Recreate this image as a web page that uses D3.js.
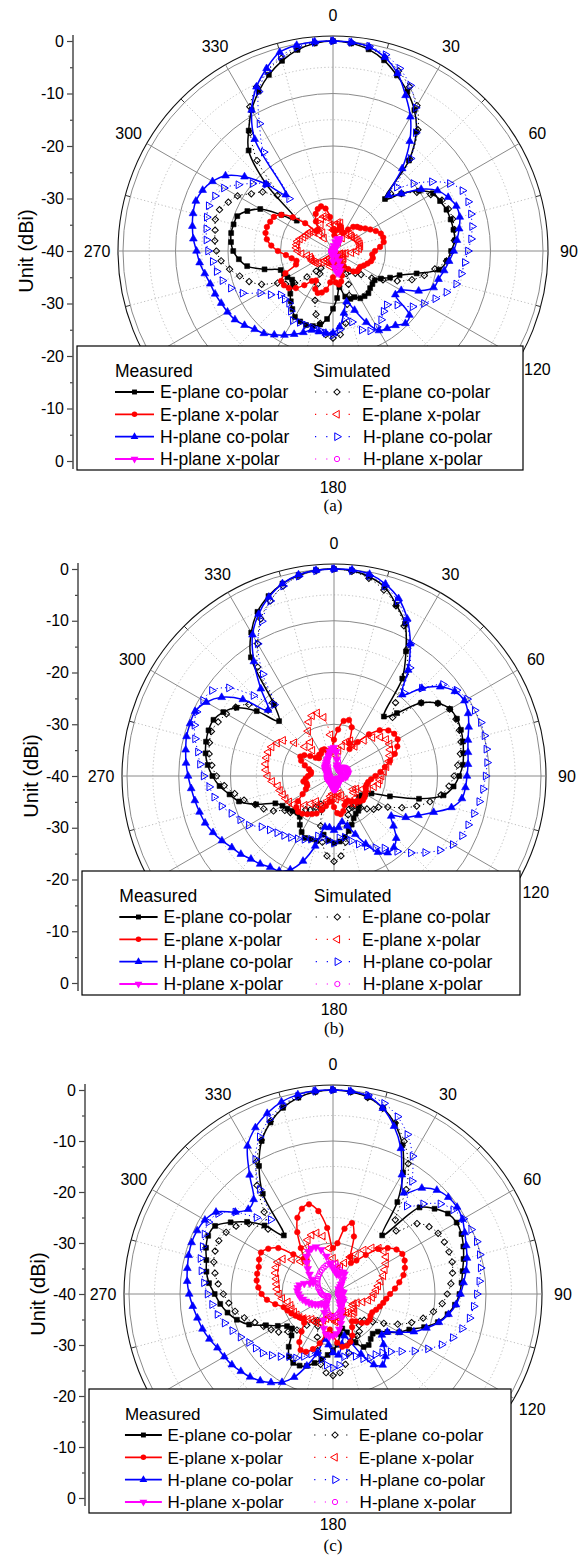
<!DOCTYPE html>
<html>
<head>
<meta charset="utf-8">
<script src="https://cdn.jsdelivr.net/npm/d3@7"></script>
<style>
  html, body { margin: 0; padding: 0; background: #fff; }
  svg { display: block; }
</style>
</head>
<body>
<svg id="chart" width="583" height="1556"></svg>
<script>
// Radiation patterns sampled every 5 degrees (0..355), gain in dBi.
const angles = d3.range(0, 360, 5);
const angleTicks = d3.range(0, 360, 30);
const radialTickLabels = ["0", "-10", "-20", "-30", "-40", "-30", "-20", "-10", "0"];
const seriesNames = ["E-plane co-polar", "E-plane x-polar", "H-plane co-polar", "H-plane x-polar"];
const groupTitles = ["Measured", "Simulated"];
const panelCaptions = ["(a)", "(b)", "(c)"];
const axisTitle = "Unit (dBi)";

// ---------- panel (a) ----------
const aEcoMeas = [0, -0.3, -1, -2.4, -4.4, -6.5, -9, -12.3, -17.5, -26, -23, -20,
  -18, -17.5, -17, -16.8, -16.7, -16.7, -17.5, -18.2, -19.5, -23.5, -26.5, -28,
  -29.5, -30.3, -30.2, -30, -29.5, -29.5, -29.6, -30.3, -30.3, -31, -33, -31,
  -29, -27, -25.8, -25.2, -25, -25.2, -25.5, -26.5, -27.5, -28.5, -30, -30.5,
  -30, -29.7, -29.4, -26.5, -23.4, -22, -21, -20.5, -20.3, -20.4, -20.6, -22,
  -24, -28, -31, -22, -15, -12, -9, -6.5, -4.3, -2.5, -1.1, -0.3];
const aEcoSim = [0, -0.2, -0.7, -1.8, -3.5, -5.5, -8, -11.8, -17.2, -24.5, -23, -20.5,
  -18.5, -17.1, -16.6, -16.4, -16.5, -16.8, -17.3, -18.3, -20.3, -22, -24, -26.5,
  -29, -31, -33, -34, -35, -36, -35, -33, -31, -29.5, -26, -24,
  -23.4, -24, -26, -27.5, -30, -33, -35, -36, -35, -33, -30.5, -29,
  -27.8, -25, -23, -21.6, -20, -18.6, -17.8, -17.4, -17.2, -16.8, -17, -18,
  -19, -21, -22.5, -25, -17.5, -12.5, -8.3, -5.5, -3.5, -2, -0.9, -0.2];
const aHcoMeas = [0, -0.1, -0.5, -1.8, -4, -7.3, -10.5, -14.5, -19.5, -25, -23, -19.5,
  -17, -15.8, -15, -15, -15.6, -16.3, -17, -17.8, -18.5, -19.2, -19.6, -22,
  -25, -25.5, -21, -20.5, -21.5, -22, -22.5, -25, -28, -30, -28, -25.5,
  -24.4, -24.3, -24.4, -24.4, -23.5, -22.5, -21.5, -20.5, -19.5, -18.9, -18, -17.2,
  -16.8, -16.5, -16.1, -15.8, -15.2, -14.5, -14, -13.3, -12.8, -12.4, -12.2, -12.6,
  -13.5, -15, -18, -22, -26, -14, -9, -5.5, -3, -0.8, -0.2, 0];
const aHcoSim = [0, -0.1, -0.4, -1.3, -3, -5.2, -8.5, -12.5, -17, -22.8, -20, -17,
  -14.3, -12.8, -12.6, -12.8, -13.1, -13.6, -14.3, -14.8, -15.2, -15.7, -17, -18.5,
  -20, -21.5, -24, -25.5, -25, -24, -23.3, -23.2, -24, -26, -27, -25,
  -24, -24.3, -24.7, -24.9, -25, -25, -24.7, -26, -27, -27, -27, -25.5,
  -24, -21, -19.3, -18.2, -17.5, -17, -16.2, -15.8, -15.5, -15.1, -14.8, -15.2,
  -16, -18, -20, -22, -27, -17, -12, -6.5, -3.5, -1.6, -0.6, -0.1];
const aExMeas = [-36, -37, -36, -35, -35.5, -36, -36, -35, -34, -33.5, -33.2, -32.5,
  -31.8, -31, -30.3, -30.1, -30.2, -31, -32, -32.5, -32.3, -32.5, -33, -33.5,
  -34, -34, -34, -34.5, -35.5, -36.5, -37, -36, -35, -34, -33.5, -34,
  -35, -34, -32.5, -31.8, -31.5, -32, -33.5, -33, -31.5, -30, -29, -28.6,
  -28.6, -30, -32.5, -32.8, -32, -31, -29.5, -28.2, -27.2, -26.7, -26.6, -26.8,
  -27, -28, -30, -32.5, -35, -35, -33.5, -32.2, -31.5, -31.2, -31.8, -33.5];
const aExSim = [-36, -35, -34.5, -34.5, -35.5, -37, -38, -37, -36, -35.5, -35.5, -35.5,
  -35.2, -35, -34.8, -34.7, -34.7, -35, -35.5, -36.5, -37.5, -38, -38.5, -38.5,
  -38, -37.5, -37.5, -38, -38.5, -39, -39, -38.5, -38, -37.5, -37, -37.5,
  -38, -37.5, -37, -37.5, -38, -38.5, -38.5, -38, -37.5, -37, -36.5, -36,
  -35.8, -35.6, -35.6, -35.5, -35, -34, -33.3, -33, -33, -33, -33.3, -33.8,
  -34, -34.2, -34.3, -35, -36, -37, -36, -34.5, -33.5, -33.2, -33.5, -35];
const aHxMeas = [-40, -39.5, -39, -38.2, -37.6, -37.4, -37.6, -38.2, -39, -39.6, -40, -40,
  -40, -40, -40, -40, -40, -40, -40, -40, -40, -40, -40, -40,
  -40, -40, -40, -40, -39.6, -38.8, -37.8, -36.8, -36, -35.6, -35.8, -36.8,
  -38, -39, -39.6, -40, -40, -40, -40, -40, -40, -40, -40, -40,
  -40, -40, -40, -40, -40, -40, -40, -40, -40, -40, -40, -40,
  -40, -40, -40, -40, -40, -40, -40, -40, -40, -40, -40, -40];
const aHxSim = [-39.7, -39.7, -39.7, -39.7, -39.7, -39.7, -39.7, -39.7, -39.7, -39.7, -39.7, -39.7,
  -39.7, -39.7, -39.7, -39.7, -39.7, -39.7, -39.7, -39.7, -39.7, -39.7, -39.7, -39.7,
  -39.7, -39.7, -39.7, -39.7, -39.7, -39.7, -39.7, -39.6, -39.5, -39.5, -39.6, -39.7,
  -39.7, -39.7, -39.7, -39.7, -39.7, -39.7, -39.7, -39.7, -39.7, -39.7, -39.7, -39.7,
  -39.7, -39.7, -39.7, -39.7, -39.7, -39.7, -39.7, -39.7, -39.7, -39.7, -39.7, -39.7,
  -39.7, -39.7, -39.7, -39.7, -39.7, -39.7, -39.7, -39.7, -39.7, -39.7, -39.7, -39.7];

// ---------- panel (b) ----------
const bEcoMeas = [0, -0.2, -0.9, -2.2, -4.8, -7.5, -12.2, -17, -25, -22.8, -18, -15.5,
  -14.1, -13.8, -13.9, -14.2, -14.6, -15, -15.8, -16.8, -18.5, -23, -28.5, -32,
  -33, -33.5, -33.7, -33, -32.5, -31.8, -31.6, -31, -30, -29, -28, -27.3,
  -27, -27.5, -28.5, -27, -27, -26.8, -27.5, -28.5, -29.7, -30, -29.5, -29,
  -28.5, -27.5, -24, -21, -19.5, -17.8, -16.5, -15.5, -14.8, -14.4, -14.2, -14.3,
  -15.3, -17, -20.5, -25, -22, -12, -8, -5, -3, -1.5, -0.6, -0.1];
const bEcoSim = [0, -0.3, -1.2, -2.8, -5, -8, -11.5, -16, -21.5, -24, -18, -15.5,
  -14.2, -14, -14.2, -14.6, -15.2, -16, -16.8, -17.7, -19, -20.8, -23, -25.5,
  -28, -29.5, -30, -31, -32, -33, -33, -33, -32, -30, -27, -24.5,
  -23.5, -24.5, -27, -30, -33, -34, -33, -32, -31.5, -30, -29, -28.4,
  -26.5, -25, -23.8, -22, -20.5, -18.7, -17.3, -16.3, -15.5, -15.1, -14.8, -15.3,
  -16, -16.8, -18.5, -22, -21.5, -14.3, -10.5, -6.5, -4, -2, -0.8, -0.2];
const bHcoMeas = [0, 0, -0.4, -1.6, -3.5, -6.5, -10.5, -15, -19.5, -16, -13.2, -11.5,
  -10.9, -11.4, -12.3, -13.2, -13.7, -14, -14.3, -14.5, -14.9, -16.5, -19.5, -22,
  -24, -26.5, -25, -23, -22, -21.9, -23, -25.5, -28, -30, -31, -30,
  -29.5, -30, -30, -26, -22.5, -20, -18.8, -18.5, -17.8, -17.3, -16.5, -15.9,
  -15, -14.2, -13.5, -13.1, -12.7, -12.3, -11.8, -11.3, -10.9, -10.5, -10.4, -10.4,
  -11.5, -13.5, -17, -22, -18, -13, -8.5, -5.5, -3.2, -1.5, -0.5, -0.1];
const bHcoSim = [0, -0.2, -0.7, -2, -4, -7, -10.5, -14.5, -19, -16, -12.5, -11.1,
  -10.3, -10, -9.8, -9.9, -10.1, -10.3, -10.7, -11.1, -11.5, -12, -12.4, -12.7,
  -13.5, -15, -17, -19, -21, -23, -24, -25, -26, -27, -28, -28,
  -27, -27.5, -28, -28, -27, -26.5, -26, -25.5, -25, -24.5, -23.8, -22.9,
  -21, -20, -18.9, -17.5, -16.5, -15.8, -14.8, -14, -13.3, -12.2, -11.3, -10.7,
  -10.8, -11.2, -13.5, -18, -22, -16, -10.5, -7, -4, -2, -0.8, -0.2];
const bExMeas = [-33, -31, -29.2, -28.8, -30, -33, -34, -32, -29.5, -27.5, -26.3, -25.8,
  -25.8, -26.5, -27.5, -28.8, -30, -31, -32, -32.8, -33.3, -33.5, -33.5, -33.2,
  -33, -32.8, -32.7, -33, -33.5, -34, -34.5, -34.5, -34, -33, -32.5, -32.8,
  -34, -35, -35, -34, -33, -32, -31.5, -31, -30.5, -30.2, -30.5, -31.5,
  -33, -34, -34.5, -34.5, -34, -34.5, -35, -35.5, -35.5, -35, -34, -33,
  -32.5, -33, -34, -35, -35.5, -35, -35, -34.5, -34.5, -35, -35.5, -35];
const bExSim = [-35, -36, -35, -34, -33, -32.5, -33, -33, -31, -29.5, -28.3, -27.7,
  -27.6, -28, -28.5, -29, -29.7, -30.3, -30.8, -31.1, -31.3, -32, -33, -34,
  -35, -35.5, -35, -34, -33.5, -33.5, -34, -35, -36, -36.5, -36, -35.5,
  -36, -36.5, -36, -35, -34, -33.5, -33.5, -34, -33, -32, -31, -30.3,
  -30, -29.7, -29.5, -29.2, -29, -28, -27.2, -26.8, -26.6, -26.5, -26.5, -26.7,
  -27.3, -28, -30, -32, -33.5, -32, -30, -28.5, -27.6, -27.4, -28.5, -32];
const bHxMeas = [-34.5, -35.3, -36.8, -37.8, -38.3, -38.4, -38.3, -38, -37.8, -37.6, -37.5, -37.4,
  -37.3, -37.3, -37.3, -37.3, -37.3, -37.4, -37.5, -37.8, -38.2, -38.5, -38.8, -39,
  -39, -39, -39, -39, -39, -38.8, -38.5, -38.2, -38, -37.8, -37.6, -37.5,
  -37.5, -37.6, -37.8, -38, -38.3, -38.6, -38.8, -39, -39, -39, -39, -39,
  -39, -39, -39, -39, -39, -39, -38.8, -38.8, -38.8, -38.8, -38.6, -38.4,
  -38.2, -38, -37.8, -37.6, -37.5, -37.3, -37, -36.8, -36.5, -36, -35.2, -34.7];
const bHxSim = [-35, -35.3, -36, -37, -37.8, -38.3, -38.5, -38.6, -38.6, -38.6, -38.6, -38.6,
  -38.6, -38.6, -38.6, -38.6, -38.6, -38.6, -38.6, -38.6, -38.6, -38.6, -38.6, -38.6,
  -38.6, -38.6, -38.6, -38.6, -38.6, -38.6, -38.6, -38.5, -38.4, -38.3, -38.2, -38.2,
  -38.2, -38.2, -38.3, -38.4, -38.5, -38.6, -38.6, -38.6, -38.6, -38.6, -38.6, -38.6,
  -38.6, -38.6, -38.6, -38.6, -38.6, -38.6, -38.6, -38.6, -38.6, -38.6, -38.6, -38.6,
  -38.6, -38.6, -38.6, -38.5, -38.3, -38, -37.6, -37, -36.3, -35.7, -35.3, -35];

// ---------- panel (c) ----------
const cEcoMeas = [0, -0.2, -0.8, -2.2, -4.5, -7.8, -12.5, -18, -25, -16, -14, -12.5,
  -12, -12.2, -12.8, -13.5, -14.2, -14.7, -15.2, -16, -17.2, -18.7, -21, -23.5,
  -25, -27, -28.5, -29, -28.5, -27.8, -28, -29.5, -32, -33, -32, -30,
  -29, -28, -27, -26, -25, -24.5, -24.4, -25, -26.5, -28.5, -29.5, -29,
  -27.5, -25.5, -22.5, -20.5, -19, -17.8, -16.8, -15.6, -14.8, -14.3, -13.5, -13,
  -13.3, -15.5, -18, -21, -25, -16, -11, -6.9, -4.2, -2.2, -0.9, -0.2];
const cEcoSim = [0, -0.2, -0.9, -2.3, -4.3, -7, -10.5, -15, -21, -22.5, -18.5, -17,
  -16.2, -15.9, -15.8, -15.8, -16.2, -16.8, -17.6, -18.5, -20, -21.7, -23.6, -26,
  -28.5, -30.5, -32, -32.5, -32, -31, -30.5, -30.5, -30, -28, -26, -24.5,
  -24, -24.5, -26, -28.5, -31, -33, -34, -33.5, -32, -30, -28.5, -27,
  -26, -25, -23.7, -22, -20.5, -19.5, -18.5, -17.4, -16.5, -15.8, -15.4, -15.3,
  -15.8, -16.8, -18.5, -22, -19, -14, -10, -6.7, -4, -2, -0.8, -0.2];
const cHcoMeas = [0, -0.1, -0.6, -2.3, -5, -8.5, -13, -15.8, -12.9, -11.2, -10.5, -10.3,
  -10.7, -11.5, -12.2, -12.8, -13.5, -14.3, -15, -15.8, -17, -18.5, -20.5, -22.5,
  -25, -27, -27.5, -26, -24, -23, -24, -27, -30, -31.5, -30, -28,
  -28.5, -30, -31, -28, -25, -22, -20, -18.8, -17.8, -17, -16.4, -15.8,
  -15.4, -15, -14.2, -13.5, -13, -12.4, -11.8, -11.3, -11, -10.7, -10.5, -10.6,
  -11, -12, -15, -16.5, -15.8, -11.5, -6.5, -4, -2.3, -1, -0.3, 0];
const cHcoSim = [0, -0.1, -0.4, -1.3, -3, -5.5, -8.8, -13, -17.5, -15, -12.5, -11.2,
  -10.5, -10.1, -10, -10.2, -10.6, -11.2, -11.8, -12.3, -12.8, -13.8, -15, -16.5,
  -18.5, -20.5, -22.5, -24, -25, -25.5, -25.5, -26, -27, -28, -27.5, -26,
  -25.5, -26, -27, -28, -27.5, -26.5, -25.5, -25, -24, -23, -22, -21.5,
  -21, -20, -19, -18, -17, -16.2, -15.4, -14.6, -13.8, -13.1, -12.8, -12.2,
  -11.8, -12.5, -15, -18.8, -21, -15, -9.5, -6, -3.5, -1.7, -0.6, -0.1];
const cExMeas = [-31, -30, -27, -25.6, -28, -32, -33, -32, -30, -27.5, -26, -24.8,
  -24.3, -24.5, -25, -25.7, -26.8, -27.8, -28.8, -29.5, -30, -30.5, -31, -31.5,
  -31.5, -31.2, -31.3, -32, -33, -33.5, -32.5, -31, -30, -29.5, -29.5, -30.4,
  -32, -33, -32, -30, -28.5, -27.5, -27.3, -28.5, -30.4, -32, -32.5, -32,
  -31.5, -31, -30.5, -30, -28.5, -27, -26, -25.3, -24.8, -24.6, -24.5, -24,
  -23.7, -24.5, -26, -29, -31, -29, -26, -23.5, -22.2, -21.8, -23.5, -27];
const cExSim = [-33, -34, -35, -34.5, -33.5, -32, -31, -29.5, -28.2, -27.3, -27, -27.3,
  -28, -28.8, -29.5, -30.3, -31, -31.5, -32, -32.3, -33, -34, -35, -35.5,
  -35.5, -35, -34.5, -34.5, -35, -35.5, -36, -36, -35.5, -35, -34.5, -34.5,
  -35, -35.5, -35.5, -35, -34.5, -34, -33.5, -33.5, -33.5, -33, -32.5, -32,
  -31.8, -31.6, -31.4, -31.4, -31, -30, -29.4, -29, -28.8, -28.5, -28, -27.7,
  -27.5, -28, -29.5, -31, -32, -31, -29.5, -28.3, -27.7, -27.6, -28.5, -31];
const cHxMeas = [-35, -35.5, -36, -36, -35.5, -35.3, -35.5, -36.5, -37.5, -38, -38.5, -38.5,
  -38.5, -38.5, -38.5, -38.3, -38, -38, -38.2, -38.5, -38.5, -38.5, -38.3, -38,
  -37.8, -37.5, -37.5, -37.8, -38, -37.5, -37, -36, -35, -34, -33, -32.2,
  -31.8, -31.6, -32, -33, -34.5, -36, -37, -37.5, -37.5, -37.5, -37, -36.5,
  -36, -35.5, -35, -34.5, -34, -33.5, -33.2, -33, -33, -33.2, -34, -35,
  -35.5, -35, -34, -33, -32, -31, -30.4, -30.1, -30.2, -31, -32.5, -34];
const cHxSim = [-34, -34, -34.5, -35, -35.5, -36, -36.5, -37, -37.5, -38, -38.3, -38.5,
  -38.7, -38.8, -38.9, -39, -39, -39, -39, -39, -38.9, -38.8, -38.7, -38.5,
  -38.3, -38, -37.8, -37.5, -37.3, -37, -36.8, -36.5, -36.3, -36, -35.8, -35.6,
  -35.5, -35.5, -35.8, -36.2, -36.6, -37, -37.4, -37.8, -38.2, -38.5, -38.7, -38.8,
  -38.9, -39, -38.8, -38.5, -38.2, -38, -37.8, -37.6, -37.5, -37.3, -37, -36.8,
  -36.5, -36.3, -36, -35.8, -35.5, -35.3, -35, -34.8, -34.5, -34.3, -34.1, -34];

// ---------- drawing ----------
const FONT = 'Arial, "Liberation Sans", Helvetica, sans-serif';
const SERIF = '"Times New Roman", "Liberation Serif", serif';
const BLACK = "#000000", RED = "#ff0000", BLUE = "#0000ff", MAGENTA = "#ff00ff";

// Series styling in legend order: measured lines with filled symbols, simulated dotted with open symbols.
const measuredStyles = [
  { color: BLACK, shape: d3.symbolSquare, size: 24, rot: 0 },
  { color: RED, shape: d3.symbolCircle, size: 24, rot: 0 },
  { color: BLUE, shape: d3.symbolTriangle, size: 26, rot: 0 },
  { color: MAGENTA, shape: d3.symbolTriangle, size: 26, rot: 180 }
];
const simulatedStyles = [
  { color: BLACK, shape: d3.symbolSquare, size: 20, rot: 45 },
  { color: RED, shape: d3.symbolTriangle, size: 26, rot: -90 },
  { color: BLUE, shape: d3.symbolTriangle, size: 26, rot: 90 },
  { color: MAGENTA, shape: d3.symbolCircle, size: 22, rot: 0 }
];

const panels = [
  { meas: [aEcoMeas, aExMeas, aHcoMeas, aHxMeas], sim: [aEcoSim, aExSim, aHcoSim, aHxSim],
    cx: 333, cy: 251, R: 210, axisX: 73, titleX: 26, box: { x: 77, y: 346, w: 446, h: 124 }, font: 17.5, capY: 511 },
  { meas: [bEcoMeas, bExMeas, bHcoMeas, bHxMeas], sim: [bEcoSim, bExSim, bHcoSim, bHxSim],
    cx: 334, cy: 776, R: 207, axisX: 78, titleX: 31, box: { x: 82, y: 871, w: 438, h: 124 }, font: 17.5, capY: 1034 },
  { meas: [cEcoMeas, cExMeas, cHcoMeas, cHxMeas], sim: [cEcoSim, cExSim, cHcoSim, cHxSim],
    cx: 333, cy: 1294, R: 204, axisX: 85, titleX: 38, box: { x: 89, y: 1389, w: 422, h: 124 }, font: 17, capY: 1551 }
];

const svg = d3.select("#chart");
const toRad = d => d * Math.PI / 180;

function drawPanel(P, idx) {
  const rScale = d3.scaleLinear().domain([-40, 0]).range([0, P.R]).clamp(true);
  const Rout = P.R + 5;
  const B = P.box;
  const root = svg.append("g");
  const g = root.append("g").attr("transform", `translate(${P.cx},${P.cy})`);

  // concentric grid rings
  const ringVals = d3.range(-35, 1, 5);
  g.selectAll("circle.ring").data(ringVals).join("circle")
    .attr("r", d => rScale(d))
    .attr("fill", "none")
    .attr("stroke", d => d % 10 === 0 ? "#8a8a8a" : "#bdbdbd")
    .attr("stroke-width", 1)
    .attr("stroke-dasharray", d => d % 10 === 0 ? null : "1.2,2.4");
  g.append("circle").attr("r", Rout).attr("fill", "none").attr("stroke", "#111").attr("stroke-width", 1.1);

  // spokes
  const spokes = d3.range(0, 360, 15);
  g.selectAll("line.spoke").data(spokes).join("line")
    .attr("x1", 0).attr("y1", 0)
    .attr("x2", d => (d % 30 === 0 ? Rout : P.R) * Math.sin(toRad(d)))
    .attr("y2", d => -(d % 30 === 0 ? Rout : P.R) * Math.cos(toRad(d)))
    .attr("stroke", d => d % 30 === 0 ? "#8a8a8a" : "#bdbdbd")
    .attr("stroke-width", 1)
    .attr("stroke-dasharray", d => d % 30 === 0 ? null : "1.2,2.4");
  g.selectAll("line.minor").data(spokes.filter(d => d % 30 !== 0)).join("line")
    .attr("x1", d => P.R * Math.sin(toRad(d))).attr("y1", d => -P.R * Math.cos(toRad(d)))
    .attr("x2", d => Rout * Math.sin(toRad(d))).attr("y2", d => -Rout * Math.cos(toRad(d)))
    .attr("stroke", "#333").attr("stroke-width", 1);

  // angle labels (those that sit under the legend box are covered by it)
  const Rl = P.R + 26;
  const visibleTicks = angleTicks.filter(d => {
    const x = P.cx + Rl * Math.sin(toRad(d)), y = P.cy - Rl * Math.cos(toRad(d));
    return !(x > B.x && x < B.x + B.w && y > B.y && y < B.y + B.h);
  });
  g.selectAll("text.ang").data(visibleTicks).join("text")
    .attr("x", d => Rl * Math.sin(toRad(d)))
    .attr("y", d => -Rl * Math.cos(toRad(d)))
    .attr("text-anchor", "middle").attr("dominant-baseline", "central")
    .attr("font-family", FONT).attr("font-size", 16).attr("fill", "#000")
    .text(d => String(d));

  // pattern curves
  const radial = d3.lineRadial()
    .angle(d => toRad(d.a))
    .radius(d => rScale(d.v))
    .curve(d3.curveCatmullRomClosed.alpha(0.5));

  function drawSeries(values, st, measured) {
    const pts = angles.map((a, i) => ({ a, v: values[i] }));
    g.append("path").attr("d", radial(pts))
      .attr("fill", "none").attr("stroke", st.color)
      .attr("stroke-width", measured ? 1.5 : 1)
      .attr("stroke-dasharray", measured ? null : "1.2,3");
    const sym = d3.symbol(st.shape, st.size);
    g.append("g").selectAll("path").data(pts.filter(d => d.v > -40)).join("path")
      .attr("d", sym)
      .attr("transform", d => {
        const r = rScale(d.v), t = toRad(d.a);
        return `translate(${r * Math.sin(t)},${-r * Math.cos(t)}) rotate(${st.rot})`;
      })
      .attr("fill", measured ? st.color : "none")
      .attr("stroke", st.color)
      .attr("stroke-width", measured ? 0.6 : 1);
  }

  // draw order: co-polar patterns first, cross-polar on top
  drawSeries(P.meas[0], measuredStyles[0], true);
  drawSeries(P.sim[0], simulatedStyles[0], false);
  drawSeries(P.sim[2], simulatedStyles[2], false);
  drawSeries(P.meas[2], measuredStyles[2], true);
  drawSeries(P.sim[1], simulatedStyles[1], false);
  drawSeries(P.meas[1], measuredStyles[1], true);
  drawSeries(P.sim[3], simulatedStyles[3], false);
  drawSeries(P.meas[3], measuredStyles[3], true);

  // legend box
  const k = B.w / 446;
  const lg = root.append("g").attr("transform", `translate(${B.x},${B.y})`);
  lg.append("rect").attr("width", B.w).attr("height", B.h)
    .attr("fill", "#fff").attr("stroke", "#000").attr("stroke-width", 1.2);
  const txt = (x, y, s) => lg.append("text").attr("x", x).attr("y", y)
    .attr("font-family", FONT).attr("font-size", P.font).attr("fill", "#000").text(s);
  txt(38 * k, 31, groupTitles[0]);
  txt(236 * k, 31, groupTitles[1]);
  const rowY = [46, 68.3, 90.7, 113];
  seriesNames.forEach((name, i) => {
    const y = rowY[i];
    const ms = measuredStyles[i], ss = simulatedStyles[i];
    lg.append("line").attr("x1", 38 * k).attr("x2", 77 * k).attr("y1", y).attr("y2", y)
      .attr("stroke", ms.color).attr("stroke-width", 1.8);
    lg.append("path").attr("d", d3.symbol(ms.shape, ms.size)())
      .attr("transform", `translate(${57.5 * k},${y}) rotate(${ms.rot})`)
      .attr("fill", ms.color);
    txt(83 * k, y + 6.3, name);
    lg.append("line").attr("x1", 238 * k).attr("x2", 274 * k).attr("y1", y).attr("y2", y)
      .attr("stroke", ss.color).attr("stroke-width", 1.2).attr("stroke-dasharray", "1.2," + (10 * k).toFixed(2));
    lg.append("path").attr("d", d3.symbol(ss.shape, ss.size)())
      .attr("transform", `translate(${260 * k},${y}) rotate(${ss.rot})`)
      .attr("fill", "#fff").attr("stroke", ss.color).attr("stroke-width", 1);
    txt((i >= 2 ? 286 : 285) * k, y + 6.3, name);
  });

  // left radial axis: 0 dB at the top, -40 dB at the centre, 0 dB at the bottom
  const ay = d3.scaleLinear().domain([0, 80]).range([P.cy - P.R, P.cy + P.R]);
  const major = d3.axisLeft(ay).tickValues(d3.range(0, 81, 10))
    .tickFormat((d, i) => radialTickLabels[i]).tickSize(6).tickSizeOuter(0).tickPadding(3);
  const minor = d3.axisLeft(ay).tickValues(d3.range(5, 80, 10)).tickFormat("").tickSize(3).tickSizeOuter(0);
  const ax = root.append("g").attr("transform", `translate(${P.axisX},0)`);
  ax.call(major);
  ax.append("g").call(minor);
  ax.selectAll(".domain").remove();
  ax.selectAll("line").attr("stroke", "#444").attr("stroke-width", 1.2);
  ax.selectAll("text").attr("font-family", FONT).attr("font-size", 16).attr("fill", "#000");
  ax.append("line").attr("x1", 0).attr("x2", 0)
    .attr("y1", P.cy - P.R - 6).attr("y2", P.cy + P.R + 8)
    .attr("stroke", "#555").attr("stroke-width", 1.6);

  root.append("text")
    .attr("transform", `translate(${P.titleX},${P.cy}) rotate(-90)`)
    .attr("text-anchor", "middle").attr("dominant-baseline", "central")
    .attr("font-family", FONT).attr("font-size", 20).attr("fill", "#000")
    .text(axisTitle);

  root.append("text").attr("x", P.cx).attr("y", P.capY)
    .attr("text-anchor", "middle").attr("font-family", SERIF).attr("font-size", 17)
    .attr("fill", "#000").text(panelCaptions[idx]);
}

panels.forEach(drawPanel);
</script>
</body>
</html>
